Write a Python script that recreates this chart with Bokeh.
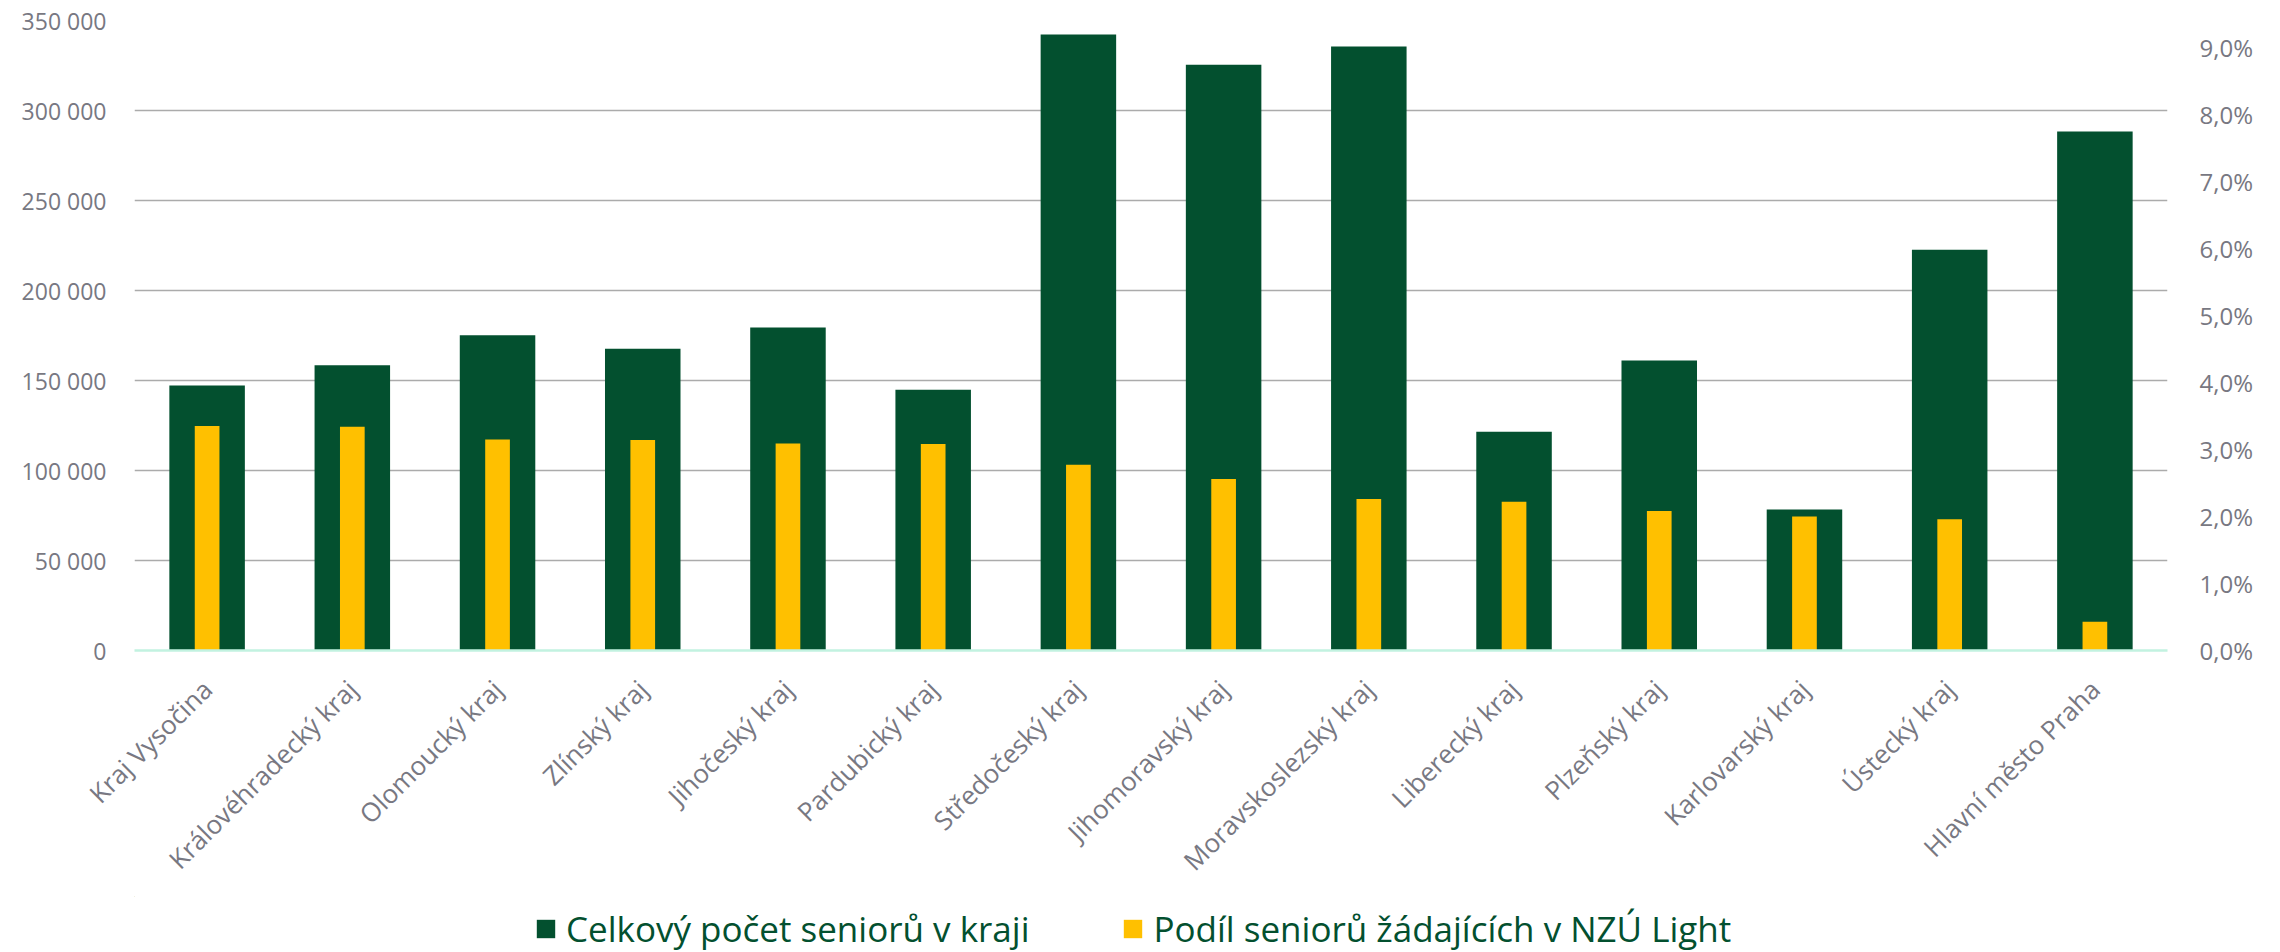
import math
from bokeh.plotting import figure
from bokeh.layouts import column
from bokeh.models import (Range1d, LinearAxis, FixedTicker, CustomJSTickFormatter,
                          Grid, Legend, LegendItem, FactorRange)
from bokeh.embed import file_html
from bokeh.resources import INLINE

regions = ["Kraj Vysočina", "Královéhradecký kraj", "Olomoucký kraj", "Zlínský kraj",
           "Jihočeský kraj", "Pardubický kraj", "Středočeský kraj", "Jihomoravský kraj",
           "Moravskoslezský kraj", "Liberecký kraj", "Plzeňský kraj", "Karlovarský kraj",
           "Ústecký kraj", "Hlavní město Praha"]
seniors = [147200, 158500, 175200, 167600, 179400, 144800, 342200, 325400,
           335600, 121500, 161100, 78300, 222600, 288300]
share = [0.0335, 0.0334, 0.0315, 0.0314, 0.0309, 0.0308, 0.0277, 0.0256,
         0.0226, 0.0222, 0.0208, 0.0200, 0.0196, 0.0043]
left_ticks = [0, 50000, 100000, 150000, 200000, 250000, 300000, 350000]
right_ticks = [0.0, 0.01, 0.02, 0.03, 0.04, 0.05, 0.06, 0.07, 0.08, 0.09]
right_max = 0.094
minor_step = 0.002
series_names = ["Celkový počet seniorů v kraji", "Podíl seniorů žádajících v NZÚ Light"]

GREEN = "#03502F"
GOLD = "#FFC000"
GREY_TXT = "#787882"
FONT = "Open Sans"
W = 2272

p = figure(x_range=FactorRange(*regions), y_range=Range1d(left_ticks[0], left_ticks[-1]),
           width=W, height=896, output_backend="svg", toolbar_location=None,
           min_border_left=134, min_border_right=105, min_border_top=20,
           min_border_bottom=246)
p.outline_line_color = None
p.extra_y_ranges = {"pct": Range1d(0, right_max)}

# minor (right-axis) gridlines
n_minor = int(round(right_max / minor_step))
minor_grid = Grid(dimension=1, y_range_name="pct",
                  ticker=FixedTicker(ticks=[i * minor_step for i in range(1, n_minor)]),
                  grid_line_color="#E6F9F1", grid_line_width=1.5)
p.add_layout(minor_grid)

p.xgrid.visible = False
p.ygrid.ticker = FixedTicker(ticks=left_ticks[1:])
p.ygrid.grid_line_color = "#ABABAB"
p.ygrid.grid_line_width = 1.5

r1 = p.vbar(x=regions, top=seniors, width=0.52, fill_color=GREEN, line_color=None)
r2 = p.vbar(x=regions, top=share, width=0.17, fill_color=GOLD, line_color=None,
            y_range_name="pct")

# left axis
ya = p.yaxis[0]
ya.ticker = FixedTicker(ticks=left_ticks)
ya.formatter = CustomJSTickFormatter(
    code="return Math.round(tick).toString().replace(/\\B(?=(\\d{3})+(?!\\d))/g, ' ');")
ya.axis_line_color = None
ya.major_tick_line_color = None
ya.minor_tick_line_color = None
ya.major_label_standoff = 22
ya.major_label_text_font = FONT
ya.major_label_text_font_size = "23px"
ya.major_label_text_color = GREY_TXT

# right axis
ra = LinearAxis(y_range_name="pct", ticker=FixedTicker(ticks=right_ticks),
                formatter=CustomJSTickFormatter(
                    code="return (tick*100).toFixed(1).replace('.', ',') + '%';"))
ra.axis_line_color = None
ra.major_tick_line_color = None
ra.minor_tick_line_color = None
ra.major_label_standoff = 26
ra.major_label_text_font = FONT
ra.major_label_text_font_size = "24px"
ra.major_label_text_color = GREY_TXT
p.add_layout(ra, "right")

# x axis
xa = p.xaxis[0]
xa.axis_line_color = "#C2F2E0"
xa.axis_line_width = 2.5
xa.major_tick_line_color = None
xa.minor_tick_line_color = None
xa.major_label_orientation = math.pi / 4
xa.major_label_standoff = 28
xa.major_label_text_font = FONT
xa.major_label_text_font_size = "26px"
xa.major_label_text_color = GREY_TXT

# legend strip (separate figure so the legend is not clipped)
p2 = figure(width=W, height=56, output_backend="svg", toolbar_location=None,
            x_range=Range1d(0, 1), y_range=Range1d(0, 1),
            x_axis_location=None, y_axis_location=None, min_border=0)
p2.outline_line_color = None
p2.grid.visible = False
# swatch renderers, placed entirely outside the visible ranges
k1 = p2.vbar(x=[-5], bottom=[5], top=[6], width=0.5, fill_color=GREEN, line_color=None)
k2 = p2.vbar(x=[-5], bottom=[5], top=[6], width=0.5, fill_color=GOLD, line_color=None)
legend = Legend(items=[LegendItem(label=series_names[0], renderers=[k1]),
                       LegendItem(label=series_names[1], renderers=[k2])],
                orientation="horizontal", location=(400, 0),
                label_text_font=FONT, label_text_font_size="35px",
                label_text_color=GREEN, glyph_width=23, glyph_height=23,
                label_standoff=9, spacing=92, padding=0, margin=0,
                border_line_color=None, background_fill_alpha=0)
p2.add_layout(legend)

layout = column(p, p2, spacing=0)
open("out.html", "w").write(file_html(layout, INLINE))
